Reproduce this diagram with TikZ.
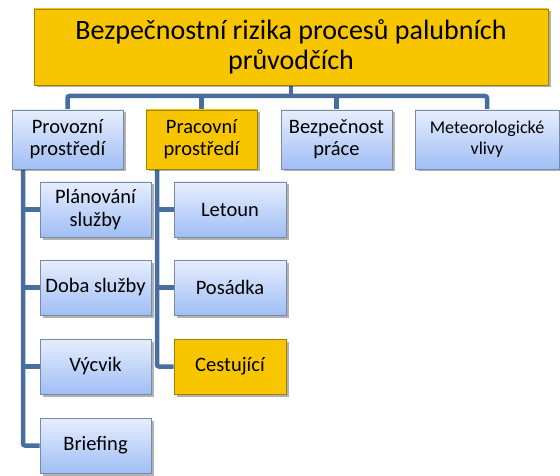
\documentclass[tikz,border=0pt]{standalone}
\usepackage{fontspec}
\setmainfont{Carlito}
\usetikzlibrary{shadows,backgrounds}

\definecolor{linkblue}{RGB}{72,110,160}
\definecolor{boxtop}{RGB}{230,238,253}
\definecolor{boxbottom}{RGB}{160,190,245}
\definecolor{boxline}{RGB}{120,138,168}
\definecolor{gold}{RGB}{248,198,0}
\definecolor{goldline}{RGB}{160,128,0}

\tikzset{
  box/.style={draw=boxline, line width=0.8pt, top color=boxtop, bottom color=boxbottom,
    inner sep=0pt, align=flush center, text=black,
    drop shadow={shadow xshift=2.5pt, shadow yshift=-2.5pt, fill=black, opacity=0.3}},
  goldbox/.style={box, top color=gold, bottom color=gold, draw=goldline},
  lvltwo/.style={minimum width=111pt, minimum height=59pt, text width=108pt,
    font=\fontsize{20.5}{22}\selectfont},
  leaf/.style={minimum width=111pt, minimum height=55pt, text width=110pt,
    font=\fontsize{20.5}{23}\selectfont},
  conn/.style={draw=linkblue, line width=4.5pt, rounded corners=2pt}
}

\begin{document}
\begin{tikzpicture}[x=1pt, y=-1pt]
\useasboundingbox (0,0) rectangle (560,476);

% root
\node[goldbox, minimum width=514pt, minimum height=76pt, text width=490pt,
  font=\fontsize{28}{30}\selectfont] (root) at (291,47)
  {Bezpečnostní rizika procesů palubních průvodčích};

% second level
\node[box, lvltwo] (prov) at (67.5,139.5) {Provozní prostředí};
\node[goldbox, lvltwo] (prac) at (201.5,139.5) {Pracovní prostředí};
\node[box, lvltwo] (bezp) at (336.5,139.5) {Bezpečnost práce};
\node[box, lvltwo, minimum width=144pt, text width=140pt,
  font=\fontsize{18}{21}\selectfont] (meteo) at (487,139.5) {Meteorologické vlivy};

% operating environment branch
\node[box, leaf] (plan) at (95.5,209.5) {Plánování služby};
\node[box, leaf] (doba) at (95.5,287.5) {Doba služby};
\node[box, leaf] (vycvik) at (95.5,366.5) {Výcvik};
\node[box, leaf] (brief) at (95.5,445.5) {Briefing};

% working environment branch
\node[box, leaf, minimum width=112pt] (letoun) at (230,209.5) {Letoun};
\node[box, leaf, minimum width=112pt] (posadka) at (230,287.5) {Posádka};
\node[goldbox, leaf, minimum width=112pt] (cest) at (230,366.5) {Cestující};

\begin{scope}[on background layer]
  \coordinate (bus) at (291,96);
  \draw[conn] (root.south) -- (bus);
  \draw[conn] (prov.north) |- (bus) -| (meteo.north);
  \draw[conn] (prac.north) -- (prac.north |- bus);
  \draw[conn] (bezp.north) -- (bezp.north |- bus);

  \coordinate (provtrunk) at (23,160);
  \draw[conn] (provtrunk) |- (brief.west);
  \draw[conn] (plan.west) -- (plan.west -| provtrunk);
  \draw[conn] (doba.west) -- (doba.west -| provtrunk);
  \draw[conn] (vycvik.west) -- (vycvik.west -| provtrunk);

  \coordinate (practrunk) at (157,160);
  \draw[conn] (practrunk) |- (cest.west);
  \draw[conn] (letoun.west) -- (letoun.west -| practrunk);
  \draw[conn] (posadka.west) -- (posadka.west -| practrunk);
\end{scope}
\end{tikzpicture}
\end{document}
